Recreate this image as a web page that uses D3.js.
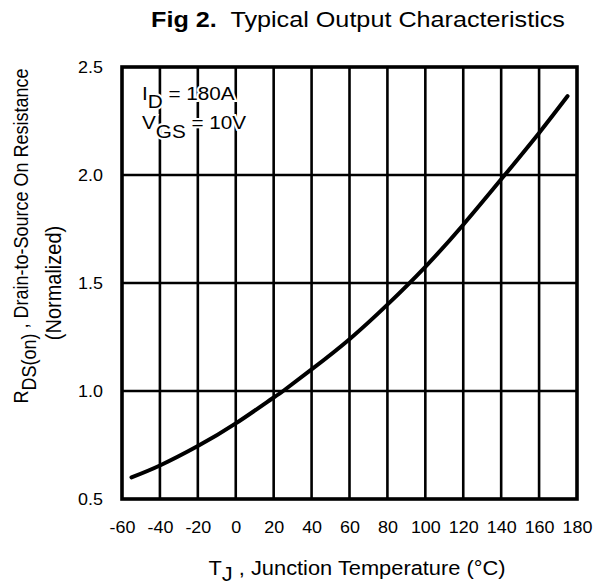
<!DOCTYPE html>
<html>
<head>
<meta charset="utf-8">
<script src="https://cdn.jsdelivr.net/npm/d3@7"></script>
<style>
  body { margin: 0; background: #fff; }
  text { font-family: "Liberation Sans", Arial, sans-serif; fill: #000; }
</style>
</head>
<body>
<svg width="607" height="585"></svg>
<script>
// values
var temps = [-55, -40, -20, 0, 20, 25, 40, 60, 80, 100, 120, 140, 160, 175];
var rdsOn = [0.600, 0.655, 0.745, 0.850, 0.970, 1.000, 1.100, 1.240, 1.400, 1.575, 1.770, 1.980, 2.195, 2.365];

var xTicks = [-60, -40, -20, 0, 20, 40, 60, 80, 100, 120, 140, 160, 180];
var yTicks = [0.5, 1.0, 1.5, 2.0, 2.5];

// the source text is a bit wider than Liberation Sans
var stretch = "scale(1.12,1)";

var svg = d3.select("svg"),
    margin = {top: 67, right: 30, bottom: 86, left: 122},
    width = +svg.attr("width") - margin.left - margin.right,
    height = +svg.attr("height") - margin.top - margin.bottom;

var x = d3.scaleLinear().domain([-60, 180]).range([0, width]);
var y = d3.scaleLinear().domain([0.5, 2.5]).range([height, 0]);

var g = svg.append("g").attr("transform", "translate(" + margin.left + "," + margin.top + ")");

// grid
g.append("g")
    .selectAll("line")
    .data(xTicks.slice(1, -1))
    .enter().append("line")
    .attr("x1", function (d) { return x(d); })
    .attr("x2", function (d) { return x(d); })
    .attr("y1", 0).attr("y2", height)
    .attr("stroke", "#000").attr("stroke-width", 2.6);

g.append("g")
    .selectAll("line")
    .data(yTicks.slice(1, -1))
    .enter().append("line")
    .attr("y1", function (d) { return y(d); })
    .attr("y2", function (d) { return y(d); })
    .attr("x1", 0).attr("x2", width)
    .attr("stroke", "#000").attr("stroke-width", 2.6);

// axes (labels only, frame drawn separately)
var xAxis = g.append("g")
    .attr("transform", "translate(0," + height + ")")
    .call(d3.axisBottom(x).tickValues(xTicks).tickSize(0).tickPadding(23)
        .tickFormat(function (d) { return String(d); }));
xAxis.select(".domain").remove();
xAxis.selectAll("text").style("font-size", "16px").attr("fill", "#000").attr("transform", stretch);

var yAxis = g.append("g")
    .call(d3.axisLeft(y).tickValues(yTicks).tickSize(0).tickPadding(17).tickFormat(d3.format(".1f")));
yAxis.select(".domain").remove();
yAxis.selectAll("text").style("font-size", "16px").attr("fill", "#000").attr("transform", stretch);

// curve
var line = d3.line()
    .x(function (d, i) { return x(temps[i]); })
    .y(function (d) { return y(d); })
    .curve(d3.curveNatural);

g.append("path")
    .datum(rdsOn)
    .attr("d", line)
    .attr("fill", "none")
    .attr("stroke", "#000")
    .attr("stroke-width", 4)
    .attr("stroke-linecap", "round");

// frame
g.append("rect")
    .attr("width", width).attr("height", height)
    .attr("fill", "none").attr("stroke", "#000").attr("stroke-width", 3.6);

// annotation
var ann = g.append("g").attr("transform", "translate(20,0) " + stretch)
    .style("font-size", "18.5px")
    .attr("stroke", "#fff").attr("stroke-width", 4).attr("paint-order", "stroke");
var t1 = ann.append("text").attr("y", 33);
t1.append("tspan").text("I");
t1.append("tspan").attr("dy", 8).text("D");
t1.append("tspan").attr("dy", -8).text(" = 180A");
var t2 = ann.append("text").attr("y", 62);
t2.append("tspan").text("V");
t2.append("tspan").attr("dy", 9).text("GS");
t2.append("tspan").attr("dy", -9).text(" = 10V");

// title
var title = svg.append("g").attr("transform", "translate(358,27) " + stretch)
    .append("text")
    .attr("text-anchor", "middle")
    .style("font-size", "22.5px");
title.append("tspan").style("font-weight", "bold").text("Fig 2.");
title.append("tspan").text("\u00a0 Typical Output Characteristics");

// x label
var xl = svg.append("g").attr("transform", "translate(357,575) " + stretch)
    .append("text")
    .attr("text-anchor", "middle")
    .style("font-size", "19.5px");
xl.append("tspan").text("T");
xl.append("tspan").attr("dy", 6).text("J");
xl.append("tspan").attr("dy", -6).text(" , Junction Temperature (\u00b0C)");

// y label
var yl = svg.append("g").attr("transform", "translate(28,236) rotate(-90) scale(1,1.12)");
var yl1 = yl.append("text").attr("text-anchor", "middle").style("font-size", "18px");
yl1.append("tspan").text("R");
yl1.append("tspan").attr("dy", 7).text("DS(on)");
yl1.append("tspan").attr("dy", -7).text(" , Drain-to-Source On Resistance");
svg.append("g").attr("transform", "translate(61,283) rotate(-90) scale(1,1.12)")
    .append("text").attr("text-anchor", "middle").style("font-size", "20px").text("(Normalized)");
</script>
</body>
</html>
